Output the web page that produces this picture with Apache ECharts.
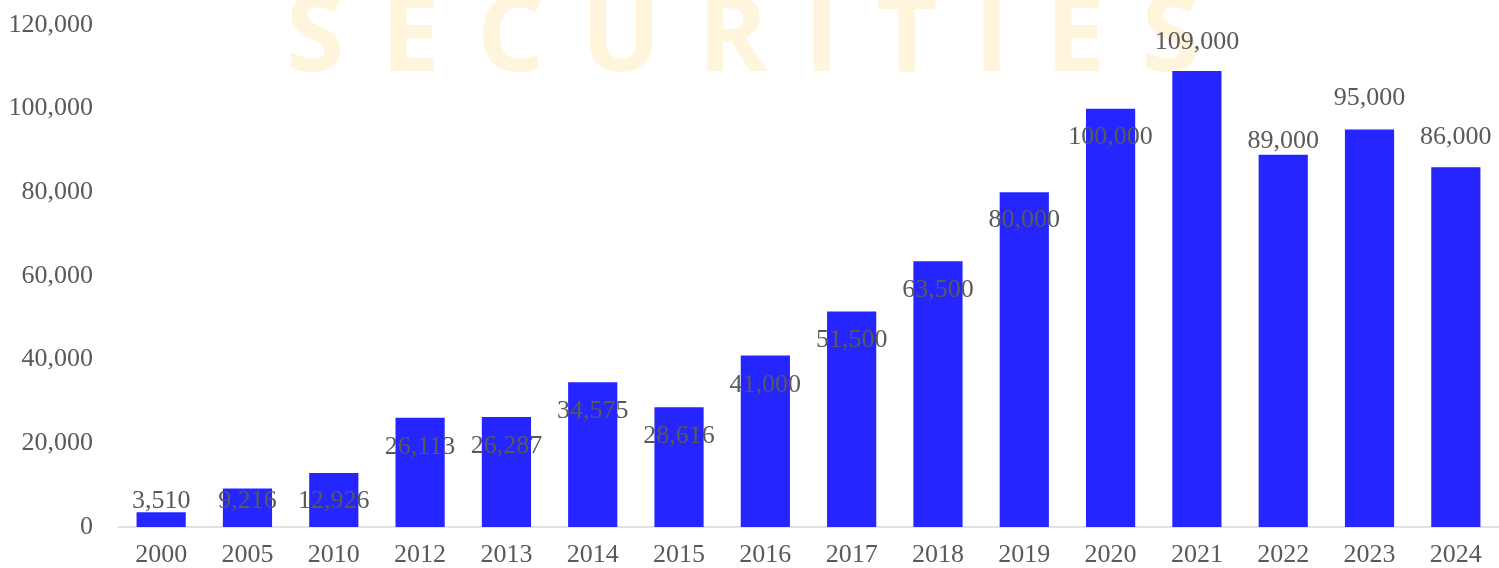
<!DOCTYPE html>
<html>
<head>
<meta charset="utf-8">
<script src="https://cdn.jsdelivr.net/npm/echarts@6/dist/echarts.min.js"></script>
<style>
  html, body { margin: 0; padding: 0; background: #ffffff; }
  #chart { width: 1499px; height: 568px; }
</style>
</head>
<body>
<div id="chart"></div>
<script>
// ---- data ----
const categories = ['2000','2005','2010','2012','2013','2014','2015','2016','2017','2018','2019','2020','2021','2022','2023','2024'];
const values = [3510, 9216, 12926, 26113, 26287, 34575, 28616, 41000, 51500, 63500, 80000, 100000, 109000, 89000, 95000, 86000];
const yTicks = { min: 0, max: 120000, interval: 20000 };
const watermark = 'SECURITIES';

// ---- style: vertical shift of each data label's centre from the bar top (px) ----
const labelShift = [-11, 13, 28, 29, 29, 29, 29, 30, 29, 29, 28, 29, -29, -14, -31, -30];

const FONT = '"Liberation Serif", "Times New Roman", serif';
const TEXT = '#595959';

// watermark letters laid out with letter spacing
const wmFont = 'bold 106px "Open Sans", sans-serif';
const ctx = document.createElement('canvas').getContext('2d');
ctx.font = wmFont;
const letters = watermark.split('');
const widths = letters.map(c => ctx.measureText(c).width);
const wmLeft = 286, wmRight = 1200;
const gap = (wmRight - wmLeft - widths.reduce((a, b) => a + b, 0)) / (letters.length - 1);
let cx = wmLeft;
const wmGraphics = letters.map((c, i) => {
  const g = {
    type: 'text', left: cx, top: -12, z: -10, silent: true,
    style: { text: c, font: wmFont, fill: '#FFF5DC' }
  };
  cx += widths[i] + gap;
  return g;
});

const chart = echarts.init(document.getElementById('chart'), null, { renderer: 'canvas' });
chart.setOption({
  animation: false,
  backgroundColor: '#ffffff',
  graphic: wmGraphics,
  grid: { left: 118, top: 25, right: -5, height: 503, containLabel: false },
  xAxis: {
    type: 'category',
    data: categories,
    axisLine: { show: true, lineStyle: { color: '#D9D9D9', width: 1.5 } },
    axisTick: { show: false },
    axisLabel: { color: TEXT, fontFamily: FONT, fontSize: 26, margin: 15 }
  },
  yAxis: {
    type: 'value',
    min: yTicks.min, max: yTicks.max, interval: yTicks.interval,
    axisLine: { show: false },
    axisTick: { show: false },
    splitLine: { show: false },
    axisLabel: {
      color: TEXT, fontFamily: FONT, fontSize: 26, margin: 25,
      formatter: v => v.toLocaleString('en-US')
    }
  },
  series: [{
    type: 'bar',
    barCategoryGap: '43%',
    itemStyle: { color: '#2525FF' },
    data: values.map((v, i) => ({
      value: v,
      label: {
        show: true,
        position: ['50%', labelShift[i]],
        align: 'center',
        verticalAlign: 'middle',
        color: TEXT,
        fontFamily: FONT,
        fontSize: 26,
        formatter: p => p.value.toLocaleString('en-US')
      }
    }))
  }]
});
</script>
</body>
</html>
